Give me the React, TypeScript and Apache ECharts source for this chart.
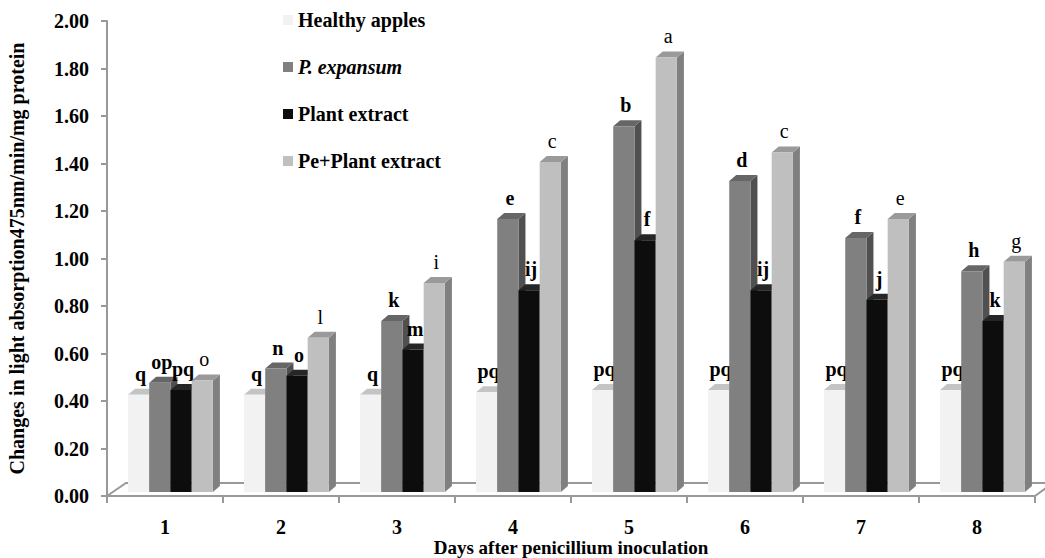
import React, { useEffect, useRef } from "react";
import * as echarts from "echarts";

const days = ["1", "2", "3", "4", "5", "6", "7", "8"];
const seriesNames = ["Healthy apples", "P. expansum", "Plant extract", "Pe+Plant extract"];
const healthy = [0.41, 0.41, 0.41, 0.42, 0.43, 0.43, 0.43, 0.43];
const expansum = [0.46, 0.52, 0.72, 1.15, 1.54, 1.31, 1.07, 0.93];
const plantExtract = [0.43, 0.49, 0.6, 0.85, 1.06, 0.85, 0.81, 0.72];
const pePlant = [0.47, 0.65, 0.88, 1.39, 1.83, 1.43, 1.15, 0.97];
const healthyLetters = ["q", "q", "q", "pq", "pq", "pq", "pq", "pq"];
const expansumLetters = ["op", "n", "k", "e", "b", "d", "f", "h"];
const plantLetters = ["pq", "o", "m", "ij", "f", "ij", "j", "k"];
const peLetters = ["o", "l", "i", "c", "a", "c", "e", "g"];
const yTicks = { min: 0, max: 2, interval: 0.2 };

const FONT = "Liberation Serif";

const faces = [
  { front: "#f2f2f2", top: "#c4c4c4", side: "#a6a6a6", bold: true },
  { front: "#808080", top: "#666666", side: "#505050", bold: true },
  { front: "#0d0d0d", top: "#262626", side: "#000000", bold: true },
  { front: "#bfbfbf", top: "#9a9a9a", side: "#808080", bold: false },
];

const allValues = [healthy, expansum, plantExtract, pePlant];
const allLetters = [healthyLetters, expansumLetters, plantLetters, peLetters];

function makeRender(sIdx: number) {
  return (params: any, api: any) => {
    const ci = api.value(0);
    const v = api.value(1);
    const base = api.coord([ci, 0]);
    const top = api.coord([ci, v]);
    const cw = api.size([1, 0])[0];
    const bw = cw * 0.183;
    const x0 = base[0] - cw * 0.319 + sIdx * bw;
    const yb = base[1] - 4;
    const yt = top[1] - 4;
    const dx = 7;
    const dy = -6;
    const f = faces[sIdx];
    return {
      type: "group",
      children: [
        {
          type: "polygon",
          shape: {
            points: [
              [x0 + bw, yt],
              [x0 + bw + dx, yt + dy],
              [x0 + bw + dx, yb + dy],
              [x0 + bw, yb],
            ],
          },
          style: { fill: f.side },
        },
        {
          type: "polygon",
          shape: {
            points: [
              [x0, yt],
              [x0 + dx, yt + dy],
              [x0 + bw + dx, yt + dy],
              [x0 + bw, yt],
            ],
          },
          style: { fill: f.top },
        },
        {
          type: "rect",
          shape: { x: x0, y: yt, width: bw, height: yb - yt },
          style: { fill: f.front },
        },
        {
          type: "text",
          x: x0 + bw / 2 + 2,
          y: yt - 11,
          style: {
            text: allLetters[sIdx][params.dataIndex],
            align: "center",
            verticalAlign: "bottom",
            fill: "#000",
            fontFamily: FONT,
            fontWeight: f.bold ? "bold" : "normal",
            fontSize: 20,
          },
        },
      ],
    };
  };
}

export default function App() {
  const ref = useRef<HTMLDivElement>(null);
  useEffect(() => {
    document.body.style.margin = "0";
    if (!ref.current) return;
    const chart = echarts.init(ref.current, undefined, { renderer: "svg" });
    const axisColor = "#999999";
    chart.setOption({
      animation: false,
      backgroundColor: "#ffffff",
      textStyle: { fontFamily: FONT },
      grid: { left: 107, right: 10, top: 21, bottom: 62, containLabel: false, outerBoundsMode: "none" },
      legend: {
        orient: "vertical",
        left: 283,
        top: 10,
        padding: 0,
        icon: "rect",
        itemWidth: 10,
        itemHeight: 10,
        itemGap: 27,
        selectedMode: false,
        data: seriesNames,
        formatter: (name: string) => (name === "P. expansum" ? "{it|P. expansum}" : name),
        textStyle: {
          fontFamily: FONT,
          fontWeight: "bold",
          fontSize: 20,
          color: "#000",
          rich: {
            it: { fontFamily: FONT, fontWeight: "bold", fontStyle: "italic", fontSize: 20, color: "#000" },
          },
        },
      },
      xAxis: {
        type: "category",
        data: days,
        name: "Days after penicillium inoculation",
        nameLocation: "middle",
        nameGap: 42,
        nameMoveOverlap: false,
        nameTextStyle: { fontFamily: FONT, fontWeight: "bold", fontSize: 19, lineHeight: 18, color: "#000" },
        axisLine: { show: true, lineStyle: { color: axisColor, width: 2 } },
        axisTick: { show: true, length: 7, lineStyle: { color: axisColor, width: 2 } },
        axisLabel: { margin: 22, fontFamily: FONT, fontWeight: "bold", fontSize: 20, lineHeight: 18, color: "#000" },
        splitLine: { show: false },
      },
      yAxis: {
        type: "value",
        min: yTicks.min,
        max: yTicks.max,
        interval: yTicks.interval,
        name: "Changes in light absorption475nm/min/mg protein",
        nameLocation: "middle",
        nameGap: 80,
        nameMoveOverlap: false,
        nameTextStyle: { fontFamily: FONT, fontWeight: "bold", fontSize: 20, color: "#000" },
        axisLine: { show: true, lineStyle: { color: axisColor, width: 2 } },
        axisTick: { show: true, length: 6, lineStyle: { color: axisColor, width: 2 } },
        axisLabel: {
          margin: 18,
          fontFamily: FONT,
          fontWeight: "bold",
          fontSize: 20,
          color: "#000",
          formatter: (v: number) => v.toFixed(2),
        },
        splitLine: { show: false },
      },
      graphic: [
        {
          type: "polyline",
          shape: { points: [[107, 496], [126, 483], [1045, 483]] },
          style: { stroke: axisColor, lineWidth: 2, fill: "none" },
          z: 0,
        },
        {
          type: "polyline",
          shape: { points: [[1035, 496], [1050, 485]] },
          style: { stroke: axisColor, lineWidth: 2, fill: "none" },
          z: 0,
        },
      ],
      series: seriesNames.map((name, s) => ({
        name,
        type: "custom",
        renderItem: makeRender(s),
        itemStyle: { color: faces[s].front },
        encode: { x: 0, y: 1 },
        data: allValues[s].map((v, i) => [i, v]),
        z: 2,
      })),
    });
    return () => chart.dispose();
  }, []);
  return <div ref={ref} style={{ width: 1045, height: 558 }} />;
}
